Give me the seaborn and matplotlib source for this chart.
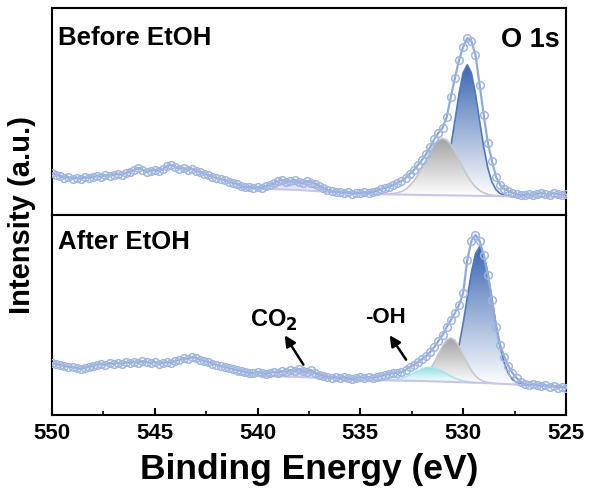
import numpy as np
import pandas as pd
import matplotlib
matplotlib.use("Agg")
import matplotlib.pyplot as plt
from matplotlib.colors import LinearSegmentedColormap
from matplotlib.patches import PathPatch
from matplotlib.ticker import MultipleLocator
import seaborn as sns

# ---- data (binding energy grid 550 -> 525 eV, 0.2 eV step) ----
before_counts = [
    42, 40, 39, 37, 38,  36, 37, 36, 38, 37,  38, 39, 38, 40, 39,
    40, 41, 40, 42, 43,  45, 47, 45, 43, 44,  45, 44, 46, 49, 50,
    48, 46, 47, 45, 46,  44, 43, 41, 40, 38,  37, 36, 35, 33, 32,
    31, 29, 28, 28, 27,  28, 27, 29, 30, 32,  34, 35, 33, 34, 35,
    33, 32, 34, 32, 31,  29, 27, 25, 24, 23,  23, 22, 23, 21, 22,
    22, 23, 22, 23, 24,  26, 27, 28, 30, 32,  34, 37, 41, 45, 50,
    55, 61, 68, 76, 82,  87, 98, 118, 137, 155,  168, 177, 174, 160, 130,
    100, 72, 54, 38, 30,  26, 24, 22, 21, 20,  20, 21, 20, 21, 22,
    21, 20, 22, 21, 20,  21,
]
after_counts = [
    52, 51, 50, 49, 48,  48, 47, 46, 47, 48,  49, 50, 51, 50, 52,
    51, 52, 51, 53, 52,  53, 52, 54, 53, 52,  53, 51, 52, 53, 52,
    54, 55, 57, 56, 58,  57, 55, 54, 53, 51,  50, 49, 48, 47, 46,
    45, 44, 43, 42, 42,  43, 42, 41, 42, 43,  42, 44, 43, 45, 44,
    46, 44, 43, 45, 42,  40, 39, 38, 37, 38,  37, 38, 37, 36, 37,
    38, 37, 38, 37, 38,  39, 40, 41, 42, 42,  43, 45, 48, 50, 53,
    56, 59, 63, 68, 74,  80, 88, 95, 102, 110,  122, 155, 174, 180, 174,
    160, 140, 115, 88, 70,  58, 49, 42, 37, 33,  31, 30, 31, 30, 29,
    30, 28, 29, 27, 28,  27,
]
energy = np.round(550 - 0.2 * np.arange(len(before_counts)), 1)

# backgrounds (anchor points)
bg_before_e = [541, 538, 535, 532, 529, 525]
bg_before = [27, 25, 21, 20, 19, 18]
bg_after_e = [541, 538, 535, 532, 529, 525]
bg_after = [40, 38, 35, 34, 32, 28]

# fitted components, heights above background; first energy of each, 0.2 eV step
before_lattice_start = 532.0
before_lattice = [0, 0.3, 0.9, 2.6, 6.4, 14, 28, 49, 75, 102, 123, 131, 123,
                  102, 75, 49, 28, 14, 6.4, 2.6, 0.9, 0.3, 0]
before_vac_start = 533.8
before_vac = [0, 0.4, 0.9, 1.7, 3.1, 5.4, 8.9, 13.7, 20, 27.6, 35.8, 43.9, 50.8,
              55.4, 57, 55.4, 50.8, 43.9, 35.8, 27.6, 20, 13.7, 8.9, 5.4, 3.1,
              1.7, 0.9, 0.4, 0]
before_co2_start = 540.6
before_co2 = [0, 0.4, 0.7, 1.1, 1.6, 2.4, 3.3, 4.3, 5.4, 6.4, 7.2, 7.8, 8, 7.8,
              7.2, 6.4, 5.4, 4.3, 3.3, 2.4, 1.6, 1.1, 0.7, 0.4, 0]

after_lattice_start = 531.6
after_lattice = [0, 0.3, 0.8, 2.0, 4.9, 10.7, 21, 37, 59, 85, 110, 129, 136, 129,
                 110, 85, 59, 37, 21, 10.7, 4.9, 2.0, 0.8, 0.3, 0]
after_vac_start = 532.8
after_vac = [0, 0.2, 0.7, 1.6, 3.5, 6.8, 12.0, 19.2, 27.5, 35.7, 41.8, 44, 41.8,
             35.7, 27.5, 19.2, 12.0, 6.8, 3.5, 1.6, 0.7, 0.2, 0]
after_oh_start = 533.8
after_oh = [0, 0.4, 0.8, 1.4, 2.5, 3.9, 5.8, 7.9, 10.2, 12.1, 13.5, 14, 13.5,
            12.1, 10.2, 7.9, 5.8, 3.9, 2.5, 1.4, 0.8, 0.4, 0]
after_co2_start = 539.8
after_co2 = [0, 0.3, 0.5, 0.8, 1.3, 1.9, 2.7, 3.6, 4.5, 5.3, 5.8, 6, 5.8, 5.3,
             4.5, 3.6, 2.7, 1.9, 1.3, 0.8, 0.5, 0.3, 0]

sns.set_style("ticks")
plt.rcParams["font.family"] = ["Liberation Sans", "DejaVu Sans"]
plt.rcParams["font.weight"] = "bold"
plt.rcParams["text.color"] = "black"
plt.rcParams["xtick.color"] = "black"
plt.rcParams["xtick.labelcolor"] = "black"

fig = plt.figure(figsize=(5.92, 5.01), dpi=100)
ax_top = fig.add_axes([0.0878, 0.571, 0.8682, 0.413])
ax_bot = fig.add_axes([0.0878, 0.1717, 0.8682, 0.3993])

data_col = "#8eaadb"


def component(ax, start, heights, bg_e, bg_v, color, edge, z):
    e = np.round(start - 0.2 * np.arange(len(heights)), 1)
    base = np.interp(e, bg_e[::-1], bg_v[::-1])
    top = base + np.array(heights)
    fill = ax.fill_between(e, base, top, facecolor="none", edgecolor="none")
    patch = PathPatch(fill.get_paths()[0], transform=ax.transData,
                      facecolor="none", edgecolor="none")
    ax.add_patch(patch)
    cmap = LinearSegmentedColormap.from_list("g", ["white", color])
    grad = np.linspace(0, 1, 256).reshape(-1, 1)
    im = ax.imshow(grad, extent=(e.min(), e.max(), base.min(), top.max()),
                   origin="lower", aspect="auto", cmap=cmap, zorder=z)
    im.set_clip_path(patch)
    ax.plot(e, top, color=edge, lw=1.2, zorder=z + 0.1)


def panel(ax, counts, bg_e, bg_v, comps, ylim):
    for start, h, col, edge, z in comps:
        component(ax, start, h, bg_e, bg_v, col, edge, z)
    bge = np.linspace(bg_e[0], bg_e[-1], 50)
    ax.plot(bge, np.interp(bge, bg_e[::-1], bg_v[::-1]), color="#c9c3f0", lw=1.5, zorder=5)
    df = pd.DataFrame({"E": energy, "I": counts})
    sns.lineplot(data=df, x="E", y="I", ax=ax, color=data_col, lw=1.6, sort=False,
                 marker="o", markersize=5.5, markerfacecolor="none",
                 markeredgecolor="#9fb6e0", markeredgewidth=1.1, zorder=6)
    ax.set_xlim(550, 525)
    ax.set_ylim(*ylim)
    ax.set_xlabel("")
    ax.set_ylabel("")
    ax.set_yticks([])
    for s in ax.spines.values():
        s.set_linewidth(1.5)
        s.set_color("black")


panel(ax_top, before_counts, bg_before_e, bg_before,
      [(before_lattice_start, before_lattice, "#3a67b2", "#4e78bf", 2),
       (before_vac_start, before_vac, "#a3a3a3", "#c8c8c8", 3),
       (before_co2_start, before_co2, "#c8c4f0", "#c8c4f0", 3)],
      (0, 207))
panel(ax_bot, after_counts, bg_after_e, bg_after,
      [(after_lattice_start, after_lattice, "#3a67b2", "#4e78bf", 2),
       (after_vac_start, after_vac, "#a3a3a3", "#c8c8c8", 3),
       (after_oh_start, after_oh, "#8fe0e6", "#a8e6ea", 4),
       (after_co2_start, after_co2, "#eab8ea", "#e8c0ec", 3)],
      (0, 200))

ax_top.tick_params(axis="x", which="both", bottom=False, labelbottom=False)
ax_bot.xaxis.set_major_locator(MultipleLocator(5))
ax_bot.xaxis.set_minor_locator(MultipleLocator(2.5))
ax_bot.tick_params(axis="x", which="major", direction="in", length=5, width=1.5,
                   labelsize=16, pad=6)
ax_bot.tick_params(axis="x", which="minor", direction="in", length=3, width=1.2)
for lab in ax_bot.get_xticklabels():
    lab.set_fontweight("bold")

ax_top.text(0.012, 0.855, "Before EtOH", transform=ax_top.transAxes,
            fontsize=18.5, fontweight="bold", va="center", ha="left")
ax_top.text(0.988, 0.845, "O 1s", transform=ax_top.transAxes,
            fontsize=19.5, fontweight="bold", va="center", ha="right")
ax_bot.text(0.012, 0.865, "After EtOH", transform=ax_bot.transAxes,
            fontsize=18.5, fontweight="bold", va="center", ha="left")

ax_bot.annotate("", xy=(538.75, 82), xytext=(537.7, 48),
                arrowprops=dict(arrowstyle="-|>", color="black", lw=1.8, mutation_scale=16))
ax_bot.text(539.2, 95, "CO$_\\mathbf{2}$", fontsize=17, fontweight="bold",
            ha="center", va="center")
ax_bot.annotate("", xy=(533.65, 82), xytext=(532.7, 53),
                arrowprops=dict(arrowstyle="-|>", color="black", lw=1.8, mutation_scale=16))
ax_bot.text(533.8, 97, "-OH", fontsize=16, fontweight="bold",
            ha="center", va="center")

fig.text(0.037, 0.571, "Intensity (a.u.)", rotation=90, fontsize=21,
         fontweight="bold", ha="center", va="center")
fig.text(0.522, 0.062, "Binding Energy (eV)", fontsize=25.5,
         fontweight="bold", ha="center", va="center")

fig.savefig("out.png", dpi=100)
